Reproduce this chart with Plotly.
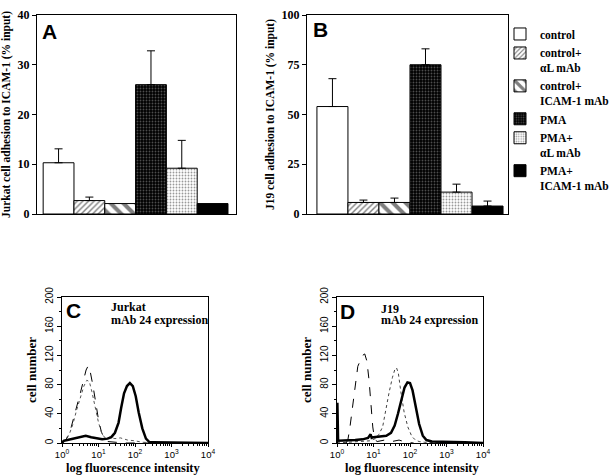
import plotly.graph_objects as go

W, H = 609, 475

# ---------------- data ----------------
categories = ["control", "control+<br>αL mAb", "control+<br>ICAM-1 mAb",
              "PMA", "PMA+<br>αL mAb", "PMA+<br>ICAM-1 mAb"]
jurkat_adhesion = [10.3, 2.7, 2.1, 26.0, 9.2, 2.1]
jurkat_err = [2.8, 0.7, 0.0, 6.8, 5.6, 0.0]
j19_adhesion = [54.0, 5.8, 5.8, 75.0, 11.0, 4.0]
j19_err = [14.0, 1.2, 2.2, 8.0, 4.0, 2.5]

yticks_A = [0, 10, 20, 30, 40]
yticks_B = [0, 25, 50, 75, 100]
hist_yticks = [0, 40, 80, 120, 160, 200]
hist_xticks = [1, 10, 100, 1000, 10000]
hist_xticktext = ["10<sup>0</sup>", "10<sup>1</sup>", "10<sup>2</sup>", "10<sup>3</sup>", "10<sup>4</sup>"]

# histograms (log10 fluorescence, cell number)
C_dash_log = [0.0, 0.1, 0.2, 0.3, 0.4, 0.5, 0.6, 0.66, 0.72, 0.78, 0.85, 0.92, 1.0, 1.08, 1.16, 1.25, 1.4, 1.7, 2.0, 3.0, 4.0]
C_dash_n = [1, 4, 12, 30, 50, 68, 88, 100, 106, 96, 78, 55, 32, 15, 6, 2, 1, 0, 0, 0, 0]
C_dot_log = [0.0, 0.1, 0.2, 0.3, 0.4, 0.5, 0.6, 0.68, 0.75, 0.82, 0.9, 1.0, 1.1, 1.2, 1.3, 1.45, 1.6, 1.8, 2.0, 2.2, 3.0, 4.0]
C_dot_n = [2, 6, 12, 26, 45, 62, 78, 86, 84, 70, 50, 28, 12, 6, 8, 6, 7, 4, 3, 1, 0, 0]
C_solid_log = [0.0, 0.05, 0.15, 0.3, 0.5, 0.65, 0.8, 0.95, 1.1, 1.25, 1.35, 1.45, 1.55, 1.62, 1.7, 1.78, 1.86, 1.94, 2.02, 2.1, 2.2, 2.3, 2.4, 2.5, 3.0, 3.5, 4.0]
C_solid_n = [0, 3, 4, 6, 8, 10, 8, 6, 5, 6, 8, 14, 28, 48, 68, 78, 82, 78, 64, 42, 20, 6, 1, 1, 1, 0, 0]

D_dash_log = [0.25, 0.3, 0.35, 0.42, 0.5, 0.57, 0.63, 0.7, 0.76, 0.82, 0.88, 0.93, 0.98, 1.03, 1.1, 1.3, 1.5, 1.7, 1.9, 2.1]
D_dash_n = [0, 5, 20, 45, 80, 105, 112, 120, 122, 112, 85, 50, 22, 5, 2, 4, 2, 4, 1, 0]
D_dot_log = [0.0, 0.3, 0.6, 0.9, 1.05, 1.15, 1.25, 1.34, 1.43, 1.52, 1.58, 1.63, 1.68, 1.75, 1.84, 1.94, 2.05, 2.15, 2.25, 2.4, 3.0, 4.0]
D_dot_n = [0, 1, 2, 3, 6, 12, 22, 48, 70, 90, 100, 103, 96, 70, 42, 22, 9, 4, 2, 1, 0, 0]
D_solid_log = [0.0, 0.01, 0.02, 0.03, 0.1, 0.3, 0.5, 0.7, 0.85, 0.92, 0.95, 1.0, 1.2, 1.35, 1.48, 1.58, 1.67, 1.76, 1.85, 1.93, 2.0, 2.07, 2.15, 2.25, 2.35, 2.45, 2.6, 3.0, 3.5, 4.0]
D_solid_n = [0, 55, 30, 3, 3, 4, 4, 5, 7, 12, 7, 8, 9, 10, 14, 24, 40, 60, 76, 83, 82, 72, 50, 26, 10, 4, 2, 2, 1, 0]

# ---------------- styles ----------------
patterns = [
    dict(shape="", bgcolor="white"),
    dict(shape="/", fgcolor="black", bgcolor="white", size=4, solidity=0.35),
    dict(shape="\\", fgcolor="black", bgcolor="white", size=9, solidity=0.45),
    dict(shape=".", fgcolor="#9a9a9a", bgcolor="black", size=3, solidity=0.3),
    dict(shape=".", fgcolor="#333", bgcolor="white", size=3, solidity=0.3),
    dict(shape="", bgcolor="black"),
]
fills = ["white", "white", "white", "black", "white", "black"]

SERIF = "Liberation Serif"
SANS = "Liberation Sans"


def px(x):
    return x / W


def py(y):
    return 1 - y / H


fig = go.Figure()

for i, cat in enumerate(categories):
    for vals, errs, xa, ya, show in [(jurkat_adhesion, jurkat_err, "x", "y", True),
                                     (j19_adhesion, j19_err, "x2", "y2", False)]:
        fig.add_trace(go.Bar(
            x=[i], y=[vals[i]], width=1, name=cat,
            showlegend=show, xaxis=xa, yaxis=ya,
            marker=dict(color=fills[i], pattern=patterns[i],
                        line=dict(color="black", width=1)),
            error_y=dict(type="data", symmetric=False, array=[errs[i]], arrayminus=[0],
                         color="black", thickness=1, width=4, visible=errs[i] > 0),
        ))

hist_sets = [
    ("x3", "y3", C_dash_log, C_dash_n, dict(color="black", width=1, dash="dash")),
    ("x3", "y3", C_dot_log, C_dot_n, dict(color="#555", width=1, dash="dot")),
    ("x3", "y3", C_solid_log, C_solid_n, dict(color="black", width=2.5)),
    ("x4", "y4", D_dash_log, D_dash_n, dict(color="black", width=1, dash="dash")),
    ("x4", "y4", D_dot_log, D_dot_n, dict(color="#444", width=1, dash="dot")),
    ("x4", "y4", D_solid_log, D_solid_n, dict(color="black", width=2.5)),
]
for xa, ya, lg, n, ln in hist_sets:
    fig.add_trace(go.Scatter(x=[10 ** v for v in lg], y=n, mode="lines", line=ln,
                             xaxis=xa, yaxis=ya, showlegend=False))

bar_x_common = dict(showticklabels=False, ticks="", showline=True, mirror=True, automargin=False,
                    linecolor="black", linewidth=1, showgrid=False, zeroline=False)
bar_y_common = dict(showline=True, mirror=True, linecolor="black", linewidth=1, automargin=False,
                    showgrid=False, zeroline=False, ticks="outside", ticklen=4,
                    tickcolor="black",
                    tickfont=dict(family=SERIF, size=12, color="black", weight="bold"))

hist_x_common = dict(type="log", range=[0, 4], tickvals=hist_xticks, ticktext=hist_xticktext,
                     showline=True, mirror=True, linecolor="black", linewidth=1, automargin=False,
                     showgrid=False, zeroline=False, ticks="outside", ticklen=3, tickcolor="black",
                     minor=dict(ticks="outside", ticklen=2, tickcolor="black", dtick="D1", showgrid=False),
                     tickfont=dict(family=SANS, size=9.5, color="black"))
hist_y_common = dict(range=[0, 200], tickvals=hist_yticks, tickangle=-90, automargin=False,
                     showline=True, mirror=True, linecolor="black", linewidth=1,
                     showgrid=False, zeroline=False, ticks="outside", ticklen=4, tickcolor="black",
                     minor=dict(ticks="outside", ticklen=2, tickcolor="black", dtick=20),
                     tickfont=dict(family=SANS, size=10, color="black"),
                     title=dict(text="cell number", standoff=4,
                                font=dict(family=SERIF, size=13, color="black", weight="bold")))

fig.update_layout(
    width=W, height=H, autosize=False,
    margin=dict(l=0, r=0, t=0, b=0, autoexpand=False),
    paper_bgcolor="white", plot_bgcolor="white",
    barmode="overlay",
    xaxis=dict(domain=[px(37), px(236)], range=[-0.7, 5.76], anchor="y", **bar_x_common),
    yaxis=dict(domain=[py(214), py(15)], range=[0, 40], tickvals=yticks_A, anchor="x",
               title=dict(text="Jurkat cell adhesion to ICAM-1 (% input)", standoff=4,
                          font=dict(family=SERIF, size=11.5, color="black", weight="bold")),
               **bar_y_common),
    xaxis2=dict(domain=[px(307), px(508)], range=[-0.82, 5.66], anchor="y2", **bar_x_common),
    yaxis2=dict(domain=[py(214), py(15)], range=[0, 100], tickvals=yticks_B, anchor="x2",
                title=dict(text="J19 cell adhesion to ICAM-1 (% input)", standoff=4,
                           font=dict(family=SERIF, size=11.5, color="black", weight="bold")),
                **bar_y_common),
    xaxis3=dict(domain=[px(62), px(208)], anchor="y3", **hist_x_common),
    yaxis3=dict(domain=[py(443), py(297)], anchor="x3", **hist_y_common),
    xaxis4=dict(domain=[px(337), px(483)], anchor="y4", **hist_x_common),
    yaxis4=dict(domain=[py(443), py(297)], anchor="x4", **hist_y_common),
    legend=dict(x=px(500), y=py(20), xanchor="left", yanchor="top",
                font=dict(family=SERIF, size=11.5, color="black", weight="bold"),
                bgcolor="rgba(0,0,0,0)", traceorder="normal",
                valign="top", itemwidth=30),
    showlegend=True,
)

ann = []
for txt, x, y in [("A", 49, 32), ("B", 320, 30), ("C", 73, 310), ("D", 347, 311)]:
    ann.append(dict(text=txt, x=px(x), y=py(y), xref="paper", yref="paper",
                    xanchor="center", yanchor="middle", showarrow=False,
                    font=dict(family=SANS, size=21, color="black", weight="bold")))
for txt, x, y in [("Jurkat", 109, 307), ("mAb 24 expression", 109, 320),
                  ("J19", 379, 309), ("mAb 24 expression", 379, 320)]:
    ann.append(dict(text=txt, x=px(x), y=py(y), xref="paper", yref="paper",
                    xanchor="left", yanchor="middle", showarrow=False,
                    font=dict(family=SERIF, size=12, color="black", weight="bold")))
for x in [133, 413]:
    ann.append(dict(text="log fluorescence intensity", x=px(x), y=py(468), xref="paper", yref="paper",
                    xanchor="center", yanchor="middle", showarrow=False,
                    font=dict(family=SERIF, size=12.5, color="black", weight="bold")))
fig.update_layout(annotations=ann)

fig.write_html("out.html", config={"displayModeBar": False},
               post_script="document.body.style.margin='0px';document.body.style.overflow='hidden';")
